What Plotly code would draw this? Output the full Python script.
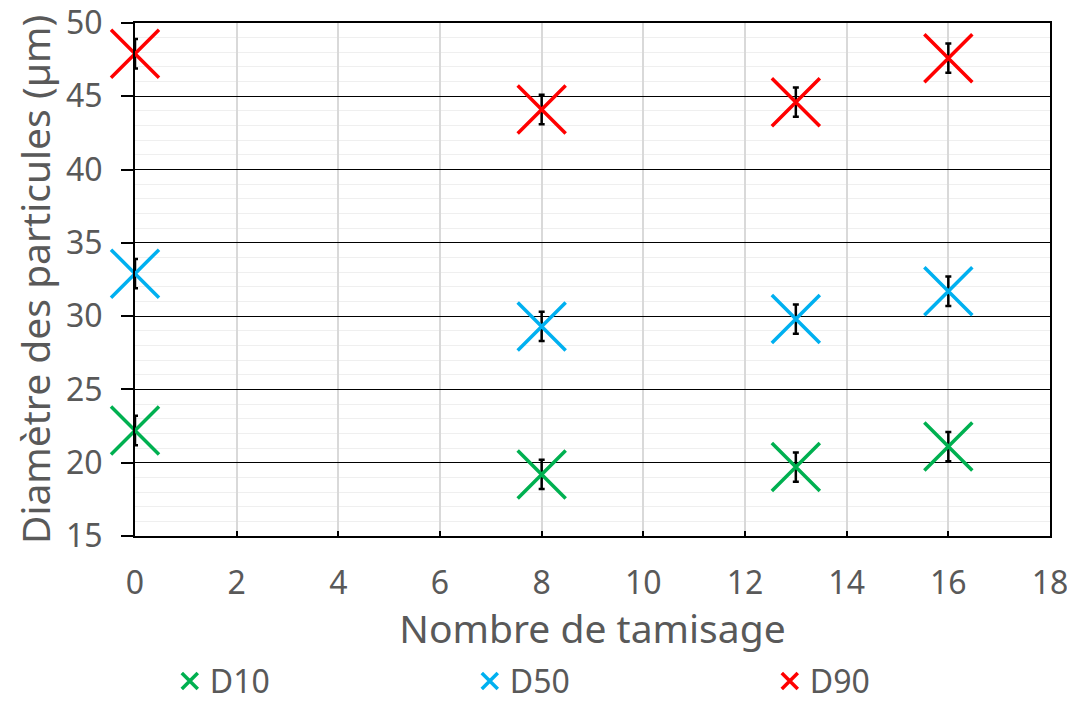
import plotly.graph_objects as go

x_vals = [0, 8, 13, 16]
d10 = [22.2, 19.2, 19.7, 21.1]
d50 = [32.9, 29.3, 29.8, 31.7]
d90 = [47.9, 44.1, 44.6, 47.6]
err = [1.0, 1.0, 1.0, 1.0]
series_names = ["D10", "D50", "D90"]
colors = ["#00b050", "#00b0f0", "#ff0000"]

fig = go.Figure()
for name, vals, c in zip(series_names, [d10, d50, d90], colors):
    fig.add_trace(go.Scatter(
        x=x_vals, y=vals, mode="markers", name=name, cliponaxis=False,
        marker=dict(symbol="x-thin", size=48, line=dict(color=c, width=3.5), color=c),
        error_y=dict(type="data", array=err, visible=True, color="black", thickness=2.5, width=3),
    ))

font_family = "Noto Sans"
txt = "#595959"
fig.update_layout(
    width=1067, height=698,
    margin=dict(l=127, r=25, t=15, b=170),
    plot_bgcolor="white", paper_bgcolor="white",
    font=dict(family=font_family, color=txt),
    showlegend=True,
    legend=dict(orientation="h", x=0.038, xanchor="left", yref="container", y=0.075, yanchor="top",
                font=dict(size=32, color=txt), itemwidth=30, entrywidth=255,
                tracegroupgap=0),
    xaxis=dict(range=[0, 18], dtick=2, tick0=0, showgrid=True, gridcolor="#d9d9d9", gridwidth=1.5,
               zeroline=False, showline=True, linecolor="black", linewidth=2, mirror=True,
               ticks="inside", ticklen=5, tickcolor="black", tickwidth=1.5,
               ticklabelstandoff=18, automargin=False, ticklabeloverflow="allow",
               tickfont=dict(size=32, color=txt),
               title=dict(text="Nombre de tamisage", font=dict(size=39, color=txt), standoff=28)),
    yaxis=dict(range=[15, 50], dtick=5, tick0=15, showgrid=True, gridcolor="black", gridwidth=1.2,
               zeroline=False, showline=True, linecolor="black", linewidth=2, mirror=True,
               ticks="outside", ticklen=12, tickcolor="black", tickwidth=1.5,
               ticklabelstandoff=12, automargin=False, ticklabeloverflow="allow",
               minor=dict(dtick=1, showgrid=True, gridcolor="#efefef", gridwidth=1.2),
               tickfont=dict(size=32, color=txt),
               title=dict(text="Diamètre des particules (µm)", font=dict(size=39, color=txt), standoff=8)),
)
fig.write_html("out.html")
